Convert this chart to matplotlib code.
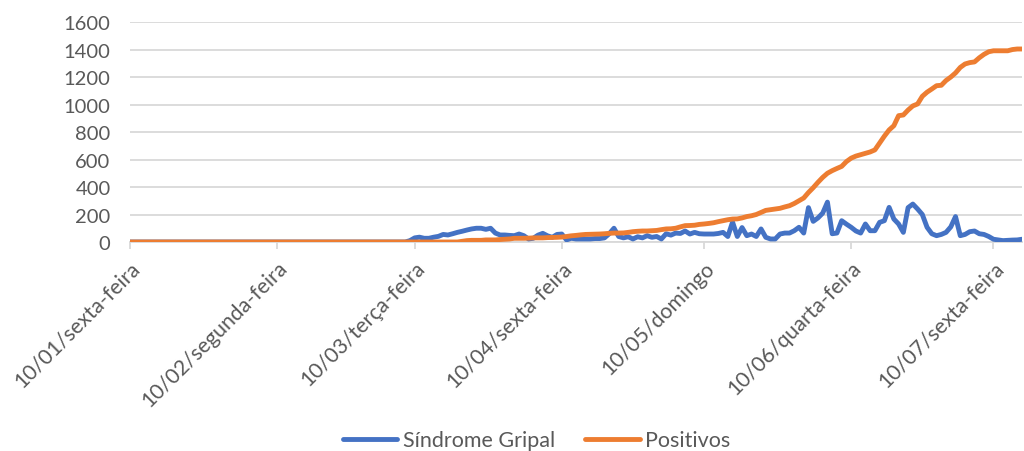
import matplotlib
matplotlib.use("Agg")
import matplotlib.pyplot as plt
import pandas as pd

start_date = "2020-01-10"

sindrome_gripal = [
    0, 0, 0, 0, 0, 0, 0, 0, 0, 0,
    0, 0, 0, 0, 0, 0, 0, 0, 0, 0,
    0, 0, 0, 0, 0, 0, 0, 0, 0, 0,
    0, 0, 0, 0, 0, 0, 0, 0, 0, 0,
    0, 0, 0, 0, 0, 0, 0, 0, 0, 0,
    0, 0, 0, 0, 0, 0, 0, 0, 0,
    10, 30, 35, 27, 27, 35, 41, 55, 51, 60,
    70, 78, 87, 95, 100, 100, 92, 100, 65, 51,
    51, 48, 46, 58, 46, 22, 27, 50, 63, 45,
    34, 55, 58, 15, 27, 22, 22, 22, 22, 25,
    25, 30, 60, 100, 40, 30, 38, 22, 38, 30,
    46, 34, 40, 22, 60, 50, 65, 62, 80, 58,
    70, 60, 58, 58, 58, 62, 70, 40, 145, 40,
    105, 46, 58, 40, 95, 34, 22, 22, 58, 65,
    65, 82, 107, 65, 250, 150, 175, 210, 290, 60,
    65, 155, 130, 107, 80, 65, 131, 82, 82, 143,
    155, 252, 167, 131, 70, 250, 276, 240, 200, 107,
    60, 46, 55, 70, 110, 185, 46, 55, 75, 80,
    60, 55, 40, 20, 15, 10, 12, 14, 15, 20,
]

positivos = [
    0, 0, 0, 0, 0, 0, 0, 0, 0, 0,
    0, 0, 0, 0, 0, 0, 0, 0, 0, 0,
    0, 0, 0, 0, 0, 0, 0, 0, 0, 0,
    0, 0, 0, 0, 0, 0, 0, 0, 0, 0,
    0, 0, 0, 0, 0, 0, 0, 0, 0, 0,
    0, 0, 0, 0, 0, 0, 0, 0, 0,
    0, 0, 0, 0, 0, 0, 0, 0, 0, 0,
    0, 5, 10, 12, 12, 12, 15, 15, 15, 18,
    20, 22, 27, 27, 27, 28, 30, 30, 30, 32,
    33, 34, 36, 40, 45, 48, 52, 55, 56, 57,
    58, 60, 63, 65, 65, 66, 70, 75, 78, 80,
    80, 82, 84, 90, 95, 96, 100, 110, 119, 120,
    122, 128, 131, 135, 140, 148, 155, 162, 167, 168,
    175, 185, 191, 200, 215, 230, 235, 240, 245, 255,
    264, 280, 300, 320, 360, 395, 434, 470, 500, 519,
    535, 550, 585, 610, 625, 635, 645, 655, 670, 720,
    770, 815, 846, 919, 924, 960, 990, 1004, 1060, 1090,
    1113, 1137, 1140, 1175, 1200, 1230, 1270, 1295, 1305, 1310,
    1340, 1365, 1384, 1391, 1391, 1391, 1391, 1400, 1404, 1404,
]

tick_dates = ["2020-01-10", "2020-02-10", "2020-03-10", "2020-04-10",
              "2020-05-10", "2020-06-10", "2020-07-10"]
tick_labels = ["10/01/sexta-feira", "10/02/segunda-feira", "10/03/terça-feira",
               "10/04/sexta-feira", "10/05/domingo", "10/06/quarta-feira",
               "10/07/sexta-feira"]
y_ticks = [0, 200, 400, 600, 800, 1000, 1200, 1400, 1600]
series_names = ["Síndrome Gripal", "Positivos"]

plt.rcParams['font.family'] = ['Lato', 'DejaVu Sans']
text_color = "#595959"
grid_color = "#d9d9d9"

dates = pd.date_range(start_date, periods=len(sindrome_gripal), freq="D")

fig = plt.figure(figsize=(10.24, 4.52), dpi=100)
ax = fig.add_axes([0.127, 0.4624, 0.871, 0.4866])

ax.plot(dates, sindrome_gripal, color="#4472C4", lw=3.5, label=series_names[0],
        solid_capstyle="round", solid_joinstyle="round", zorder=3)
ax.plot(dates, positivos, color="#ED7D31", lw=3.5, label=series_names[1],
        solid_capstyle="round", solid_joinstyle="round", zorder=4)

ax.set_xlim(dates[0], dates[-1])
ax.set_ylim(0, 1600)
ax.set_yticks(y_ticks)
ax.set_yticklabels([str(v) for v in y_ticks])
ax.yaxis.grid(True, color=grid_color, lw=1.3)
ax.set_axisbelow(True)

ax.set_xticks(pd.to_datetime(tick_dates))
ax.set_xticklabels(tick_labels, rotation=45, ha="right", va="top",
                   rotation_mode="anchor")

for s in ["top", "right", "left"]:
    ax.spines[s].set_visible(False)
ax.spines["bottom"].set_color(grid_color)
ax.spines["bottom"].set_linewidth(1.3)

ax.tick_params(axis="y", length=0, pad=14, labelsize=14.5, labelcolor=text_color)
ax.tick_params(axis="x", length=5, width=1.3, color=grid_color, pad=6,
               labelsize=15.3, labelcolor=text_color)

fig.legend(loc="center", bbox_to_anchor=(0.524, 0.024), ncol=2, frameon=False,
           fontsize=15.5, labelcolor=text_color, handlelength=2.55,
           handletextpad=0.25, columnspacing=1.4)

fig.savefig("out.png", dpi=100)
